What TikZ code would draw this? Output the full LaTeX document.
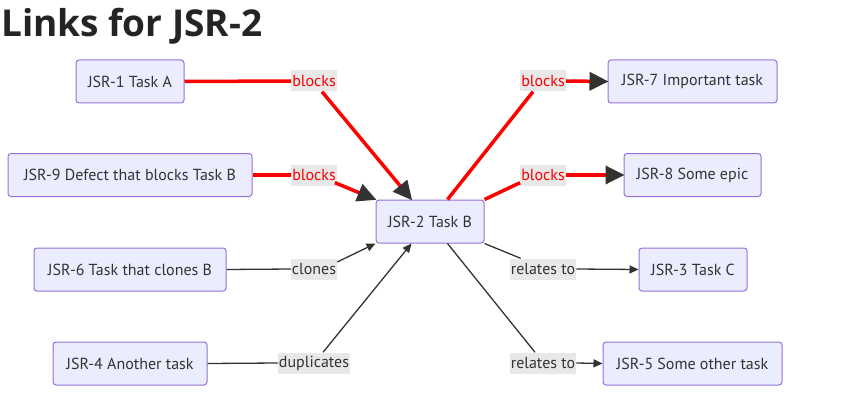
\documentclass[tikz,border=0pt]{standalone}
\usepackage{fontspec}
\setmainfont{PT Sans}
\newfontfamily\titlefont{Open Sans}
\usetikzlibrary{arrows.meta,calc}
\definecolor{nodefill}{HTML}{ECECFF}
\definecolor{nodeborder}{HTML}{9370DB}
\definecolor{ink}{HTML}{333333}
\definecolor{lblbg}{HTML}{E8E8E8}
\tikzset{
  task/.style={draw=nodeborder, fill=nodefill, rounded corners=3pt, line width=1pt,
    text=ink, font=\fontsize{16}{18}\selectfont, inner sep=0pt, minimum height=43pt},
  lbl/.style={fill=lblbg, inner sep=1pt, text=ink, font=\fontsize{16}{18}\selectfont, minimum height=21pt},
  redlbl/.style={lbl, text=red},
  redline/.style={draw=red, line width=3.5pt},
  redarrow/.style={redline, -{Triangle[length=19pt,width=18pt,color=ink]}, shorten >=-1pt},
  thin/.style={draw=ink, line width=1.3pt},
  thinarrow/.style={thin, -{Triangle[length=9pt,width=8pt,color=ink]}},
}
\begin{document}
\begin{tikzpicture}[x=1pt,y=-1pt]
\useasboundingbox (0,0) rectangle (866,409);
\node[anchor=base west, inner sep=0pt, text=ink!70!black, font=\titlefont\bfseries\fontsize{37}{42}\selectfont] (title) at (1,37) {Links for JSR-2};

% nodes
\node[task, minimum width=108pt] (j1) at (130,81.5) {JSR-1 Task A};
\node[task, minimum width=244pt] (j9) at (130,175) {JSR-9 Defect that blocks Task B};
\node[task, minimum width=192pt] (j6) at (130,269.5) {JSR-6 Task that clones B};
\node[task, minimum width=154pt] (j4) at (130,363.5) {JSR-4 Another task};
\node[task, minimum width=108pt] (j2) at (430,221.5) {JSR-2 Task B};
\node[task, minimum width=169pt] (j7) at (692.5,81.5) {JSR-7 Important task};
\node[task, minimum width=137pt] (j8) at (692.5,175) {JSR-8 Some epic};
\node[task, minimum width=108pt] (j3) at (693,269.5) {JSR-3 Task C};
\node[task, minimum width=179pt] (j5) at (692.5,363.5) {JSR-5 Some other task};

% labels
\node[redlbl] (l1) at (314,81) {blocks};
\node[redlbl] (l9) at (314,175) {blocks};
\node[lbl] (l6) at (314,269) {clones};
\node[lbl] (l4) at (314,363) {duplicates};
\node[redlbl] (l7) at (543,81) {blocks};
\node[redlbl] (l8) at (543,175) {blocks};
\node[lbl] (l3) at (543,269) {relates to};
\node[lbl] (l5) at (543,363) {relates to};

% red edges
\draw[redline] (j1.east) -- (l1.west);
\draw[redarrow] ($(l1.south)+(8,0)$) -- ($(j2.north west)+(36,0)$);
\draw[redline] (j9.east) -- (l9.west);
\draw[redarrow] ($(l9.south east)+(-2,-3)$) -- (j2.north west);
\draw[redline] ($(j2.north west)+(72,0)$) -- ($(l7.south)+(-10,0)$);
\draw[redarrow] (l7.east) -- (j7.west);
\draw[redline] (j2.north east) -- ($(l8.south west)+(0,-3)$);
\draw[redarrow] (l8.east) -- (j8.west);

% thin edges
\draw[thin] (j6.east) -- (l6.west);
\draw[thinarrow] ($(l6.east)+(0,-7)$) -- (j2.south west);
\draw[thin] (j4.east) -- (l4.west);
\draw[thinarrow] ($(l4.north)+(9,0)$) -- ($(j2.south west)+(36,0)$);
\draw[thin] (j2.south east) -- ($(l3.north west)+(11,0)$);
\draw[thinarrow] (l3.east) -- (j3.west);
\draw[thin] ($(j2.south west)+(72,0)$) -- ($(l5.north)+(-8,0)$);
\draw[thinarrow] (l5.east) -- (j5.west);
\end{tikzpicture}
\end{document}
